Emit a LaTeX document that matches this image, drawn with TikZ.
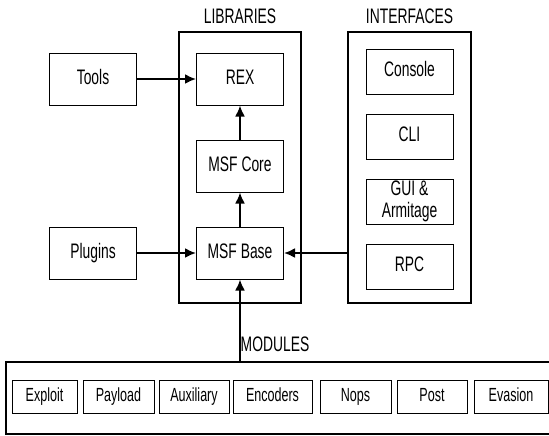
\documentclass[tikz,border=0pt]{standalone}
\usepackage{fontspec}
\setmainfont{Liberation Sans}[FakeStretch=0.66]
\usetikzlibrary{arrows.meta,positioning}

\begin{document}
\begin{tikzpicture}
[x=0.5pt, y=-0.5pt, node distance=17pt, font=\fontsize{10.5}{11}\selectfont]
\tikzstyle{box}=[draw, line width=0.5pt, minimum width=43.5pt, minimum height=26pt, inner sep=1pt, align=center, text height=0.72em, text depth=0.2em]
\tikzstyle{ibox}=[box, minimum height=22.5pt]
\tikzstyle{mbox}=[box, minimum width=34pt, minimum height=16.5pt, font=\fontsize{9.5}{10}\selectfont]
\tikzstyle{frame}=[draw, line width=1pt, inner sep=0pt]
\tikzstyle{title}=[label distance=1.5pt]
\tikzstyle{link}=[line width=1pt, -{Latex[length=5.5pt, width=5pt]}]

\useasboundingbox (0,0) rectangle (549,435);

% libraries
\node[frame, minimum width=61pt, minimum height=135.5pt, title, label=above:{LIBRARIES}] (lib) at (240,167.5) {};
\node[box]	(base)	at (240,253)	{MSF Base};
\node[box]	(core)	[above=of base]	{MSF Core};
\node[box]	(rex)	[above=of core]	{REX};
\node[box]	(tools)	[left=29.5pt of rex]	{Tools};
\node[box]	(plugins)	[left=29.5pt of base]	{Plugins};

% interfaces
\node[frame, minimum width=61.5pt, minimum height=135.5pt, title, label=above:{INTERFACES}] (ifaces) at (409.5,167.5) {};
\node[ibox]	(console)	at (409.5,71.5)	{Console};
\node[ibox]	(cli)	[below=9.5pt of console]	{CLI};
\node[ibox, text height=, text depth=]	(gui)	[below=9.5pt of cli]	{GUI \&\\Armitage};
\node[ibox]	(rpc)	[below=9.5pt of gui]	{RPC};

% modules
\node[frame, minimum width=275pt, minimum height=36pt] (mods) at (281,398) {};
\node (modtitle) at (275,344) {MODULES};
\foreach \n/\x/\w in {Exploit/44.5/32.5, Payload/118.5/35.5, Auxiliary/194/35, Encoders/272.5/39.5, Nops/355.5/35.5, Post/432/35, Evasion/511/37}
	\node[mbox, minimum width=\w pt] (\n) at (\x,396.5) {\n};

\draw[link] (tools)--(rex);
\draw[link] (plugins)--(base);
\draw[link] (base)--(core);
\draw[link] (core)--(rex);
\draw[link] (ifaces.west |- base)--(base.east);
\draw[link] (base |- mods.north)--(base.south);

\end{tikzpicture}
\end{document}
